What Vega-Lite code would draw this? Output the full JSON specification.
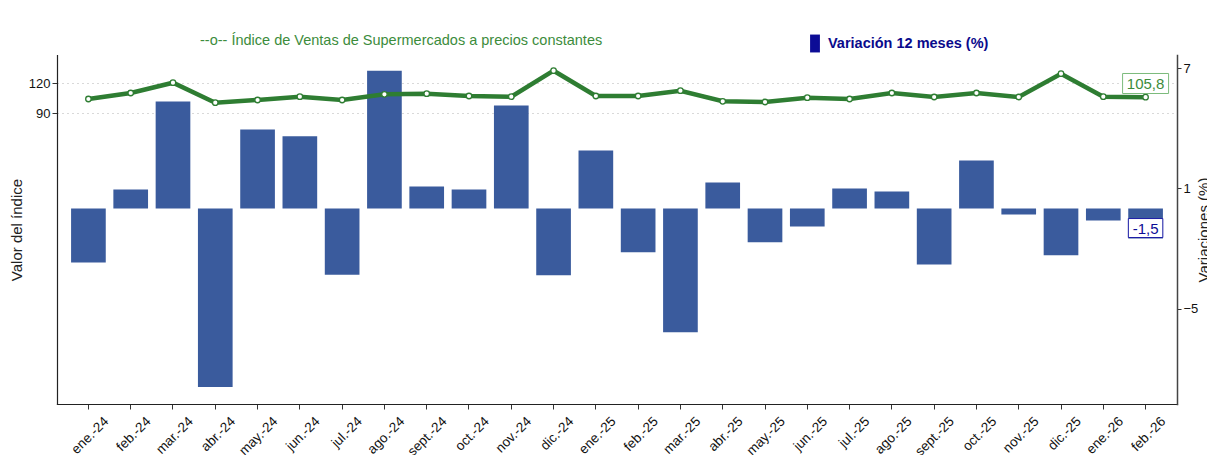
{
  "$schema": "https://vega.github.io/schema/vega-lite/v6.json",
  "autosize": {"type": "none"},
  "width": 1120,
  "height": 349,
  "padding": {"left": 57, "top": 55, "right": 30, "bottom": 51},
  "background": "white",
  "title": {
    "text": "--o-- Índice de Ventas de Supermercados a precios constantes",
    "anchor": "start",
    "frame": "group",
    "dx": 143,
    "dy": 22,
    "offset": 8,
    "fontSize": 14.5,
    "fontWeight": "normal",
    "font": "Liberation Sans",
    "color": "#3c8c3c"
  },
  "data": {
    "values": [
      {"mes": "ene.-24", "indice": 104.0, "variacion": -2.7},
      {"mes": "feb.-24", "indice": 110.0, "variacion": 0.95},
      {"mes": "mar.-24", "indice": 120.3, "variacion": 5.33},
      {"mes": "abr.-24", "indice": 100.3, "variacion": -8.9},
      {"mes": "may.-24", "indice": 103.0, "variacion": 3.93},
      {"mes": "jun.-24", "indice": 106.3, "variacion": 3.6},
      {"mes": "jul.-24", "indice": 103.0, "variacion": -3.3},
      {"mes": "ago.-24", "indice": 108.7, "variacion": 6.87},
      {"mes": "sept.-24", "indice": 109.3, "variacion": 1.1},
      {"mes": "oct.-24", "indice": 107.0, "variacion": 0.95},
      {"mes": "nov.-24", "indice": 106.3, "variacion": 5.13},
      {"mes": "dic.-24", "indice": 132.3, "variacion": -3.33},
      {"mes": "ene.-25", "indice": 107.0, "variacion": 2.89},
      {"mes": "feb.-25", "indice": 107.0, "variacion": -2.19},
      {"mes": "mar.-25", "indice": 112.3, "variacion": -6.17},
      {"mes": "abr.-25", "indice": 101.7, "variacion": 1.29},
      {"mes": "may.-25", "indice": 101.0, "variacion": -1.69},
      {"mes": "jun.-25", "indice": 105.3, "variacion": -0.9},
      {"mes": "jul.-25", "indice": 104.0, "variacion": 1.0},
      {"mes": "ago.-25", "indice": 110.0, "variacion": 0.85},
      {"mes": "sept.-25", "indice": 106.0, "variacion": -2.79},
      {"mes": "oct.-25", "indice": 110.0, "variacion": 2.39},
      {"mes": "nov.-25", "indice": 106.0, "variacion": -0.3},
      {"mes": "dic.-25", "indice": 129.3, "variacion": -2.34},
      {"mes": "ene.-26", "indice": 106.3, "variacion": -0.6},
      {"mes": "feb.-26", "indice": 105.8, "variacion": -1.5, "etiqueta_indice": "105,8", "etiqueta_variacion": "-1,5"}
    ]
  },
  "encoding": {
    "x": {
      "field": "mes",
      "type": "nominal",
      "sort": null,
      "scale": {"paddingInner": 0.18, "paddingOuter": 0.333},
      "axis": {
        "title": null,
        "labelAngle": -45,
        "labelAlign": "right",
        "labelBaseline": "top",
        "labelFontSize": 13.5,
        "labelFont": "Liberation Sans",
        "labelColor": "#111",
        "labelPadding": 5,
        "labelOffset": 13,
        "tickSize": 5,
        "tickColor": "#333",
        "domainColor": "#222",
        "domainWidth": 1.2,
        "grid": false
      }
    }
  },
  "layer": [
    {
      "layer": [
        {
          "mark": {"type": "bar", "color": "#3a5b9d"},
          "encoding": {
            "y": {
              "field": "variacion",
              "type": "quantitative",
              "scale": {"domain": [-9.75, 7.65], "nice": false, "zero": false},
              "axis": {
                "orient": "right",
                "values": [-5, 1, 7],
                "title": "Variaciones (%)",
                "titleAngle": 270,
                "titleFontSize": 15,
                "titleFontWeight": "normal",
                "titleFont": "Liberation Sans",
                "titleColor": "#222",
                "titlePadding": 14,
                "labelFontSize": 13,
                "labelFont": "Liberation Sans",
                "labelColor": "#111",
                "tickSize": 4,
                "tickColor": "#333",
                "domainColor": "#444",
                "domainWidth": 1.5,
                "grid": false
              }
            }
          }
        },
        {
          "transform": [{"filter": "datum.etiqueta_variacion != null"}],
          "mark": {"type": "point", "shape": "M-1,-0.55L1,-0.55L1,0.55L-1,0.55Z", "size": 1190, "filled": false, "fill": "white", "fillOpacity": 1, "stroke": "#1c1ca6", "strokeWidth": 1, "opacity": 1, "yOffset": -10.5},
          "encoding": {"y": {"field": "variacion", "type": "quantitative"}}
        },
        {
          "transform": [{"filter": "datum.etiqueta_variacion != null"}],
          "mark": {"type": "text", "fontSize": 15, "font": "Liberation Sans", "yOffset": -10, "baseline": "middle"},
          "encoding": {
            "y": {"field": "variacion", "type": "quantitative"},
            "text": {"field": "etiqueta_variacion"},
            "color": {
              "datum": "Variación 12 meses (%)",
              "type": "nominal",
              "scale": {"range": ["#0c0c96"]},
              "legend": {
                "orient": "none",
                "legendX": 749,
                "legendY": -20.5,
                "title": null,
                "symbolType": "M-0.55,-1L0.55,-1L0.55,1L-0.55,1Z",
                "symbolSize": 320,
                "symbolOpacity": 1,
                "symbolStrokeWidth": 0,
                "labelFontSize": 14.5,
                "labelFontWeight": "bold",
                "labelFont": "Liberation Sans",
                "labelColor": "#0a0a8c",
                "labelOffset": 4,
                "labelLimit": 400
              }
            }
          }
        }
      ]
    },
    {
      "layer": [
        {
          "mark": {"type": "line", "color": "#2e7d32", "strokeWidth": 4.5},
          "encoding": {
            "y": {
              "field": "indice",
              "type": "quantitative",
              "scale": {"domain": [-201, 148], "nice": false, "zero": false},
              "axis": {
                "orient": "left",
                "values": [90, 120],
                "title": "Valor del índice",
                "titleFontSize": 15,
                "titleFontWeight": "normal",
                "titleFont": "Liberation Sans",
                "titleColor": "#222",
                "titlePadding": 4,
                "labelFontSize": 13,
                "labelFont": "Liberation Sans",
                "labelColor": "#111",
                "tickSize": 5,
                "tickColor": "#333",
                "domainColor": "#222",
                "domainWidth": 1.2,
                "grid": true,
                "gridColor": "#b4b4b4",
                "gridDash": [1, 4],
                "gridWidth": 1.2
              }
            }
          }
        },
        {
          "mark": {"type": "point", "filled": true, "fill": "white", "stroke": "#2e7d32", "strokeWidth": 1.3, "size": 30, "opacity": 1},
          "encoding": {"y": {"field": "indice", "type": "quantitative"}}
        },
        {
          "transform": [{"filter": "datum.etiqueta_indice != null"}],
          "mark": {"type": "point", "shape": "M-1,-0.435L1,-0.435L1,0.435L-1,0.435Z", "size": 2116, "filled": false, "fill": "white", "fillOpacity": 1, "stroke": "#7cbb7c", "strokeWidth": 1, "opacity": 1, "yOffset": -13.7},
          "encoding": {"y": {"field": "indice", "type": "quantitative"}}
        },
        {
          "transform": [{"filter": "datum.etiqueta_indice != null"}],
          "mark": {"type": "text", "fontSize": 15, "font": "Liberation Sans", "color": "#3c8c3c", "yOffset": -13.5, "baseline": "middle"},
          "encoding": {"y": {"field": "indice", "type": "quantitative"}, "text": {"field": "etiqueta_indice"}}
        }
      ]
    }
  ],
  "resolve": {"scale": {"y": "independent", "color": "independent"}},
  "config": {
    "view": {"stroke": null},
    "axis": {"domainCap": "square"}
  }
}
